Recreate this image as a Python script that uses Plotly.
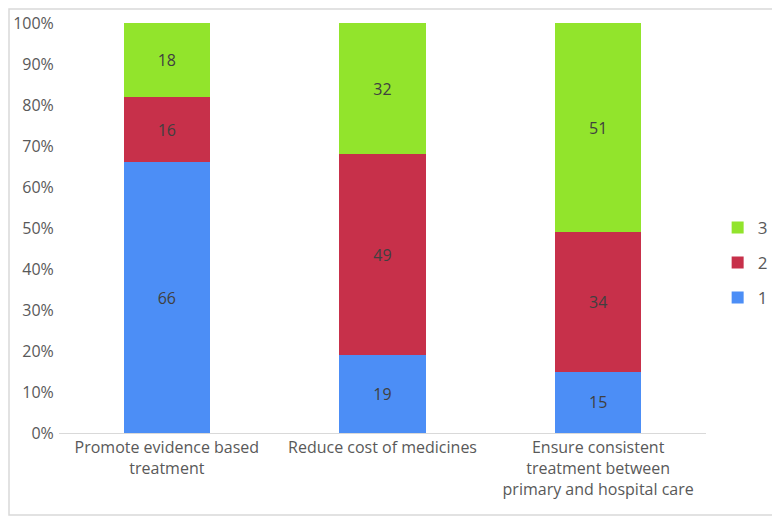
import plotly.graph_objects as go

categories = ["Promote evidence based<br>treatment",
              "Reduce cost of medicines",
              "Ensure consistent<br>treatment between<br>primary and hospital care"]
series_names = ["1", "2", "3"]
values_1 = [66, 19, 15]
values_2 = [16, 49, 34]
values_3 = [18, 32, 51]
colors = ["#4C8EF6", "#C7304A", "#92E42C"]
tick_vals = [0, 10, 20, 30, 40, 50, 60, 70, 80, 90, 100]
tick_text = [f"{v}%" for v in tick_vals]

fig = go.Figure()
for i, (name, vals, col) in enumerate(zip(series_names, [values_1, values_2, values_3], colors)):
    fig.add_trace(go.Bar(
        x=categories, y=vals, name=name, marker=dict(color=col, line=dict(width=0)),
        text=[str(v) for v in vals], textposition="inside", insidetextanchor="middle",
        textfont=dict(color="#404040", size=16), legendgroup=name,
        legendrank=1000 - i, constraintext="none",
    ))

# page has an 8px body margin, so figure is offset by 8px
W, H = 772, 510
ml, mr, mt, mb = 51, 74, 15, 85
pw, ph = W - ml - mr, H - mt - mb

fig.update_layout(
    width=W, height=H, barmode="stack", bargap=0.6,
    margin=dict(l=ml, r=mr, t=mt, b=mb, autoexpand=False),
    paper_bgcolor="white", plot_bgcolor="white",
    font=dict(family="Open Sans, Noto Sans, sans-serif", color="#595959", size=16),
    uniformtext=dict(mode="show", minsize=16),
    legend=dict(traceorder="grouped", x=1.018, y=0.415, yanchor="middle",
                xanchor="left", font=dict(size=17), tracegroupgap=10, itemwidth=30),
    xaxis=dict(showline=True, linecolor="#D9D9D9", linewidth=1, ticks="",
               tickfont=dict(size=16), showgrid=False, automargin=False),
    yaxis=dict(range=[0, 100], tickvals=tick_vals, ticktext=tick_text, showgrid=False,
               showline=False, zeroline=False, tickfont=dict(size=16), ticklen=1,
               ticks="outside", tickcolor="white", automargin=False),
    shapes=[dict(type="rect", xref="paper", yref="paper",
                 x0=(1 - ml) / pw, x1=(769 - ml) / pw,
                 y0=(H - 507 - mb) / ph, y1=(H - 1 - mb) / ph,
                 line=dict(color="#D9D9D9", width=1.5), fillcolor="rgba(0,0,0,0)")],
)

fig.write_html("out.html")
